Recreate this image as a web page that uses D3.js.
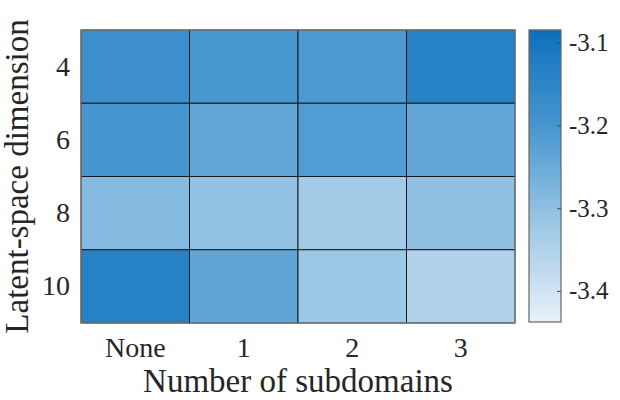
<!DOCTYPE html>
<html><head><meta charset="utf-8">
<script src="https://cdn.jsdelivr.net/npm/d3@7"></script>
<style>
body{margin:0;background:#fff;}
text{font-family:"Liberation Serif","Times New Roman",serif;fill:#262626;}
</style></head>
<body><svg id="c" width="620" height="400"></svg>
<script>
const xCategories = ["None","1","2","3"];
const yCategories = ["4","6","8","10"];
// values[row][col], rows = latent-space dimension, cols = number of subdomains
const row4  = [-3.180,-3.205,-3.210,-3.135];
const row6  = [-3.200,-3.240,-3.215,-3.240];
const row8  = [-3.285,-3.305,-3.330,-3.300];
const row10 = [-3.135,-3.235,-3.320,-3.350];
const values = [row4,row6,row8,row10];
const cbarTicks = [-3.1,-3.2,-3.3,-3.4];
const cbarDomain = [-3.437,-3.084];
const cmapStops = [-3.437,-3.4,-3.3,-3.2,-3.1,-3.084];
const cmapColors = ["#e8f2f9","#d0e4f3","#8fc0e2","#4696cf","#1675bf","#0b6db8"];

const svg = d3.select("#c");
const m = {l:81, t:30, w:434, h:293};
const x = d3.scaleBand().domain(xCategories).range([m.l, m.l+m.w]);
const y = d3.scaleBand().domain(yCategories).range([m.t, m.t+m.h]);
const color = d3.scaleLinear().domain(cmapStops).range(cmapColors).clamp(true);

const cells = [];
values.forEach((r,i)=>r.forEach((v,j)=>cells.push({r:yCategories[i],c:xCategories[j],v})));
svg.append("g").selectAll("rect").data(cells).join("rect")
  .attr("x",d=>x(d.c)).attr("y",d=>y(d.r))
  .attr("width",x.bandwidth()).attr("height",y.bandwidth())
  .attr("fill",d=>color(d.v))
  .attr("stroke","#1a1a1a").attr("stroke-width",1);
svg.append("rect").attr("x",m.l).attr("y",m.t).attr("width",m.w).attr("height",m.h)
  .attr("fill","none").attr("stroke","#7f7f7f").attr("stroke-width",1.2);

// x tick labels
svg.append("g").selectAll("text").data(xCategories).join("text")
  .attr("x",d=>x(d)+x.bandwidth()/2).attr("y",357)
  .attr("text-anchor","middle").attr("font-size",28).text(d=>d);
// y tick labels
svg.append("g").selectAll("text").data(yCategories).join("text")
  .attr("x",70).attr("y",d=>y(d)+y.bandwidth()/2+9)
  .attr("text-anchor","end").attr("font-size",28).text(d=>d);
// axis labels
svg.append("text").attr("x",m.l+m.w/2).attr("y",392)
  .attr("text-anchor","middle").attr("font-size",33).text("Number of subdomains");
svg.append("text").attr("transform",`translate(28,${m.t+m.h/2}) rotate(-90)`)
  .attr("text-anchor","middle").attr("font-size",33).text("Latent-space dimension");

// colorbar
const cb = {x:529, y:30, w:32, h:292};
const cy = d3.scaleLinear().domain(cbarDomain).range([cb.y+cb.h, cb.y]);
const nBands = 64;
const bands = d3.range(nBands).map(i=>cbarDomain[0]+(i+0.5)*(cbarDomain[1]-cbarDomain[0])/nBands);
const bh = cb.h/nBands;
svg.append("g").selectAll("rect").data(bands).join("rect")
  .attr("x",cb.x).attr("y",d=>cy(d)-bh/2-0.3).attr("width",cb.w).attr("height",bh+0.6)
  .attr("fill",d=>color(d));
svg.append("rect").attr("x",cb.x).attr("y",cb.y).attr("width",cb.w).attr("height",cb.h)
  .attr("fill","none").attr("stroke","#666").attr("stroke-width",1.2);
const cAxis = svg.append("g");
cAxis.selectAll("line").data(cbarTicks).join("line")
  .attr("x1",cb.x+cb.w-4).attr("x2",cb.x+cb.w).attr("y1",d=>cy(d)).attr("y2",d=>cy(d))
  .attr("stroke","#444");
cAxis.selectAll("text").data(cbarTicks).join("text")
  .attr("x",569).attr("y",d=>cy(d)+8)
  .attr("font-size",25).text(d=>d3.format(".1f")(d).replace("−","-"));
</script></body></html>
